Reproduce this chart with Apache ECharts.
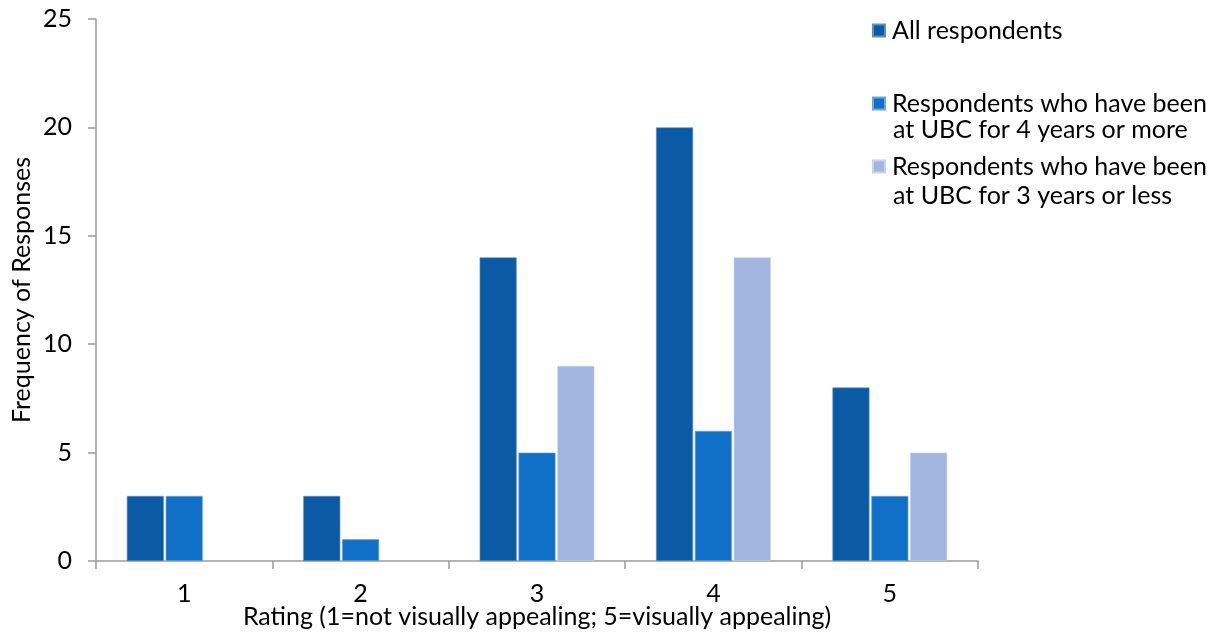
<!DOCTYPE html>
<html><head><meta charset="utf-8">
<script src="https://cdn.jsdelivr.net/npm/echarts@6/dist/echarts.min.js"></script>
<style>html,body{margin:0;padding:0;background:#fff}#c{width:1213px;height:634px}</style>
</head><body><div id="c"></div>
<script>
const categories = ['1','2','3','4','5'];
const allRespondents = [3,3,14,20,8];
const fourOrMore = [3,1,5,6,3];
const threeOrLess = ['-','-',9,14,5];
const seriesNames = ['All respondents','Respondents who have been','Respondents who have been '];
const secondLines = ['at UBC for 4 years or more','at UBC for 3 years or less'];
const colors = ['#0B5AA5','#1070C8','#A1B5DE'];
const font = 'Lato, "Open Sans", sans-serif';
const fs = 25;
const chart = echarts.init(document.getElementById('c'));
const legendBase = {orient:'vertical', left:867, itemWidth:12, itemHeight:12, itemGap:8, icon:'rect',
  textStyle:{fontFamily:font, fontSize:fs, color:'#000', padding:[0,0,0,2]}, selectedMode:false};
chart.setOption({
  animation:false,
  color: colors,
  grid:{left:96, top:19, right:235, bottom:73, outerBoundsMode:'none', containLabel:false},
  legend:[
    Object.assign({}, legendBase, {top:13, data:[seriesNames[0]]}),
    Object.assign({}, legendBase, {top:86, data:[seriesNames[1]]}),
    Object.assign({}, legendBase, {top:149, data:[seriesNames[2]]})
  ],
  graphic:[
    {type:'text', left:893, top:117, style:{text:secondLines[0], font:fs+'px '+font, fill:'#000'}},
    {type:'text', left:893, top:183, style:{text:secondLines[1], font:fs+'px '+font, fill:'#000'}}
  ],
  xAxis:{type:'category', data:categories,
    name:'Rating (1=not visually appealing; 5=visually appealing)', nameLocation:'middle', nameGap:43,
    nameMoveOverlap:false,
    nameTextStyle:{fontFamily:font, fontSize:fs, color:'#000'},
    axisLine:{lineStyle:{color:'#9A9A9A', width:1.5}},
    axisTick:{show:true, length:8, lineStyle:{color:'#9A9A9A', width:1.5}},
    axisLabel:{fontFamily:font, fontSize:fs, color:'#000', margin:20}},
  yAxis:{type:'value', min:0, max:25, interval:5,
    name:'Frequency of Responses', nameLocation:'middle', nameGap:62, nameRotate:90,
    nameMoveOverlap:false,
    nameTextStyle:{fontFamily:font, fontSize:fs, color:'#000'},
    axisLine:{show:true, lineStyle:{color:'#9A9A9A', width:1.5}},
    axisTick:{show:true, length:8, lineStyle:{color:'#9A9A9A', width:1.5}},
    splitLine:{show:false},
    axisLabel:{fontFamily:font, fontSize:fs, color:'#000', margin:24}},
  series:[
    {name:seriesNames[0], type:'bar', data:allRespondents, barWidth:37, barGap:'5%', itemStyle:{borderColor:'#5D8FC4', borderWidth:0.6}},
    {name:seriesNames[1], type:'bar', data:fourOrMore, barWidth:37, barGap:'5%', itemStyle:{borderColor:'#6FA6DC', borderWidth:0.6}},
    {name:seriesNames[2], type:'bar', data:threeOrLess, barWidth:37, barGap:'5%', itemStyle:{borderColor:'#C6D3EC', borderWidth:0.6}}
  ]
});
</script></body></html>
